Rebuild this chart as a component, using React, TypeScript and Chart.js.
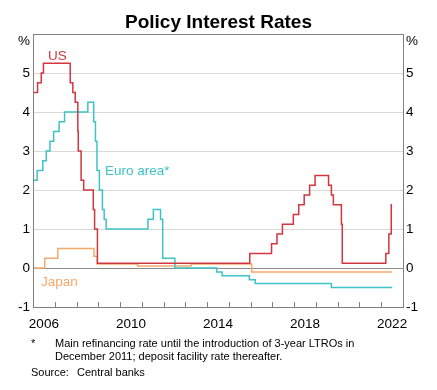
import React, { useEffect, useRef } from "react";
import { Chart, registerables } from "chart.js";

Chart.register(...registerables);

// ---- Data (decimal years, % per annum; each value holds from its date) ----
const usDates = [2006.0, 2006.21, 2006.38, 2006.48, 2007.71, 2007.83, 2007.94, 2008.06, 2008.08, 2008.21, 2008.33, 2008.77, 2008.83, 2008.96, 2015.96, 2016.96, 2017.21, 2017.46, 2017.96, 2018.21, 2018.46, 2018.71, 2018.96, 2019.58, 2019.71, 2019.8, 2020.17, 2020.21, 2022.21, 2022.35, 2022.46, 2022.5];
const usRates = [4.5, 4.75, 5.0, 5.25, 4.75, 4.5, 4.25, 3.5, 3.0, 2.25, 2.0, 1.5, 1.0, 0.125, 0.375, 0.625, 0.875, 1.125, 1.375, 1.625, 1.875, 2.125, 2.375, 2.125, 1.875, 1.625, 1.125, 0.125, 0.375, 0.875, 1.625, 1.625];

const euroDates = [2006.0, 2006.19, 2006.45, 2006.61, 2006.78, 2006.95, 2007.2, 2007.45, 2008.52, 2008.79, 2008.87, 2008.94, 2009.05, 2009.19, 2009.27, 2009.36, 2011.28, 2011.53, 2011.86, 2011.96, 2012.52, 2014.44, 2014.69, 2015.94, 2016.21, 2019.71, 2022.5];
const euroRates = [2.25, 2.5, 2.75, 3.0, 3.25, 3.5, 3.75, 4.0, 4.25, 3.75, 3.25, 2.5, 2.0, 1.5, 1.25, 1.0, 1.25, 1.5, 1.25, 0.25, 0.0, -0.1, -0.2, -0.3, -0.4, -0.5, -0.5];

const japanDates = [2006.0, 2006.54, 2007.14, 2008.8, 2008.95, 2010.8, 2013.26, 2016.05, 2022.5];
const japanRates = [0.0, 0.25, 0.5, 0.3, 0.1, 0.05, 0.1, -0.1, -0.1];

const labelYears = [2006, 2010, 2014, 2018, 2022];
const minorYears = [2007, 2008, 2009, 2010, 2011, 2012, 2013, 2014, 2015, 2016, 2017, 2018, 2019, 2020, 2021, 2022];
const yTicks = [-1, 0, 1, 2, 3, 4, 5, 6];

const RED = "#d2363f";
const CYAN = "#3ec3c9";
const ORANGE = "#f6a96b";
const FONT = "Arial, 'Liberation Sans', sans-serif";

const toPoints = (xs: number[], ys: number[]) => xs.map((x, i) => ({ x, y: ys[i] }));

const framePlugin = {
  id: "frame",
  beforeDatasetsDraw(chart: any) {
    const { ctx, chartArea: a, scales } = chart;
    ctx.save();
    // inward year tick marks on bottom axis
    ctx.strokeStyle = "#808080";
    ctx.lineWidth = 1;
    ctx.beginPath();
    for (const yr of minorYears) {
      const px = Math.round(scales.x.getPixelForValue(yr)) + 0.5;
      ctx.moveTo(px, a.bottom);
      ctx.lineTo(px, a.bottom - 5);
    }
    ctx.stroke();
    ctx.restore();
  },
  afterDraw(chart: any) {
    const { ctx, chartArea: a, scales } = chart;
    ctx.save();
    ctx.strokeStyle = "#808080";
    ctx.lineWidth = 1;
    ctx.strokeRect(Math.round(a.left) + 0.5, Math.round(a.top) + 0.5, Math.round(a.right - a.left), Math.round(a.bottom - a.top));
    // % unit labels
    ctx.fillStyle = "#000";
    ctx.font = `13.5px ${FONT}`;
    ctx.textBaseline = "middle";
    const py = scales.y.getPixelForValue(6) + 7;
    ctx.textAlign = "right";
    ctx.fillText("%", a.left - 3, py);
    ctx.textAlign = "left";
    ctx.fillText("%", a.right + 3, py);
    ctx.restore();
  },
};

export default function App() {
  const canvasRef = useRef<HTMLCanvasElement | null>(null);

  useEffect(() => {
    document.body.style.margin = "0";
    const canvas = canvasRef.current;
    if (!canvas) return;
    const yAxisCommon = {
      type: "linear" as const,
      min: -1,
      max: 6,
      afterBuildTicks: (scale: any) => {
        scale.ticks = yTicks.map((v) => ({ value: v }));
      },
      ticks: {
        callback: (v: any) => (v === 6 ? "" : String(v)),
        font: { family: FONT, size: 13.5 },
        color: "#000",
        padding: 3,
      },
      border: { display: false },
    };
    const chart = new Chart(canvas, {
      type: "line",
      data: {
        datasets: [
          { label: "US", data: toPoints(usDates, usRates), borderColor: RED, borderWidth: 1.5, stepped: true, pointRadius: 0, fill: false },
          { label: "Euro area*", data: toPoints(euroDates, euroRates), borderColor: CYAN, borderWidth: 1.5, stepped: true, pointRadius: 0, fill: false },
          { label: "Japan", data: toPoints(japanDates, japanRates), borderColor: ORANGE, borderWidth: 1.5, stepped: true, pointRadius: 0, fill: false },
        ],
      },
      options: {
        responsive: false,
        animation: false,
        devicePixelRatio: 1,
        layout: { padding: { top: 34, left: 0, right: 0, bottom: 0 } },
        plugins: { legend: { display: false }, tooltip: { enabled: false }, title: { display: false } },
        scales: {
          x: {
            type: "linear",
            min: 2006,
            max: 2023,
            position: "bottom",
            afterBuildTicks: (scale: any) => {
              scale.ticks = labelYears.map((y) => ({ value: y + 0.5 }));
            },
            afterFit: (scale: any) => {
              scale.height = 83;
            },
            grid: { display: false, drawTicks: false },
            border: { display: false },
            ticks: {
              autoSkip: false,
              maxRotation: 0,
              callback: (v: any) => String(Math.floor(v)),
              font: { family: FONT, size: 13.5 },
              color: "#000",
              padding: 9,
            },
          },
          y: {
            ...yAxisCommon,
            position: "left",
            afterFit: (scale: any) => {
              scale.width = 33;
            },
            grid: {
              drawTicks: false,
              lineWidth: 1,
              color: (ctx: any) => {
                const v = ctx.tick && ctx.tick.value;
                if (v === 0) return "#8c8c8c";
                if (v === -1 || v === 6) return "rgba(0,0,0,0)";
                return "#d9d9d9";
              },
            },
          },
          y2: {
            ...yAxisCommon,
            position: "right",
            afterFit: (scale: any) => {
              scale.width = 34;
            },
            grid: { display: false, drawTicks: false },
          },
        },
      },
      plugins: [framePlugin],
    } as any);
    return () => chart.destroy();
  }, []);

  const textBase: React.CSSProperties = { position: "absolute", fontFamily: FONT, whiteSpace: "nowrap", margin: 0 };

  return (
    <div style={{ position: "relative", width: 437, height: 390, background: "#fff", overflow: "hidden" }}>
      <canvas ref={canvasRef} width={437} height={390} style={{ display: "block", width: 437, height: 390 }} />
      <div style={{ ...textBase, left: 0, width: 437, textAlign: "center", top: 12, fontSize: 19, lineHeight: "19px", fontWeight: "bold", color: "#000" }}>
        Policy Interest Rates
      </div>
      <div style={{ ...textBase, left: 48, top: 49, fontSize: 13.5, lineHeight: "14px", color: RED }}>US</div>
      <div style={{ ...textBase, left: 105, top: 164, fontSize: 13.5, lineHeight: "14px", color: CYAN }}>Euro area*</div>
      <div style={{ ...textBase, left: 41, top: 275, fontSize: 13.5, lineHeight: "14px", color: ORANGE }}>Japan</div>
      <div style={{ ...textBase, left: 31, top: 337, fontSize: 11, lineHeight: "13px", color: "#000" }}>*</div>
      <div style={{ ...textBase, left: 55, top: 337, fontSize: 11, lineHeight: "13.4px", color: "#000" }}>
        Main refinancing rate until the introduction of 3-year LTROs in
        <br />
        December 2011; deposit facility rate thereafter.
      </div>
      <div style={{ ...textBase, left: 31, top: 366, fontSize: 11, lineHeight: "13px", color: "#000" }}>
        Source:<span style={{ position: "absolute", left: 46 }}>Central banks</span>
      </div>
    </div>
  );
}
